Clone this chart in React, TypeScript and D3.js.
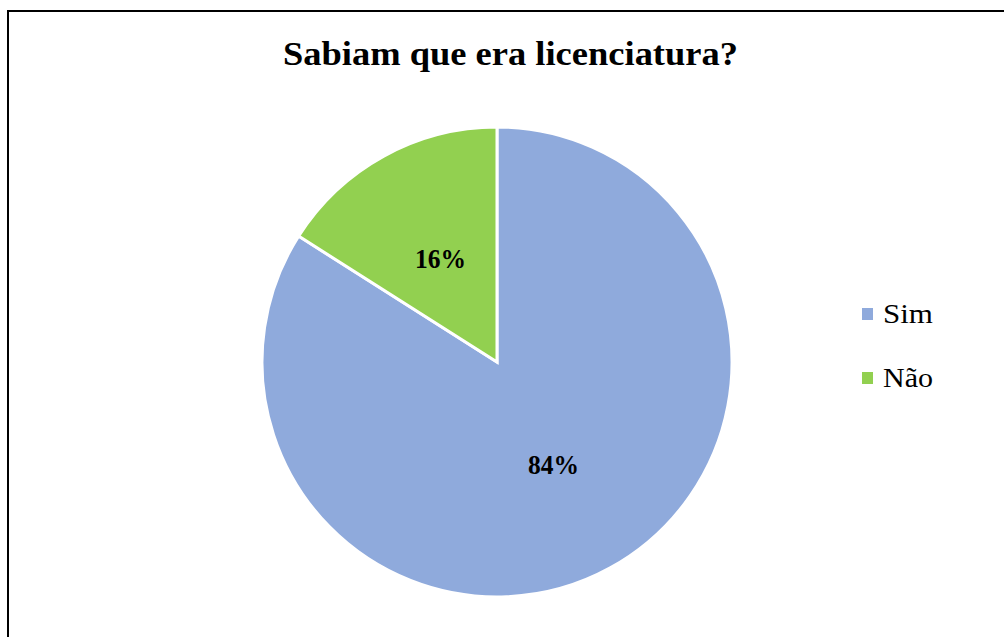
import React from "react";
import * as d3 from "d3";

const categories = ["Sim", "Não"];
const values = [84, 16];
const colors = ["#8FAADC", "#92D050"];
const title = "Sabiam que era licenciatura?";

export default function App() {
  const W = 1004, H = 637;
  const cx = 497, cy = 362, r = 235;
  const pie = d3.pie<number>().sort(null).value((d) => d);
  const arcs = pie(values);
  const arc = d3.arc<d3.PieArcDatum<number>>().innerRadius(0).outerRadius(r);
  const total = d3.sum(values);
  const labelArc = d3.arc<d3.PieArcDatum<number>>().innerRadius(r * 0.5).outerRadius(r * 0.5);
  const font = "Liberation Serif";
  return (
    <svg width={W} height={H} style={{ position: "absolute", left: 0, top: 0, background: "#fff" }}>
      <rect x={0} y={0} width={W} height={H} fill="#fff" />
      <line x1={7} y1={11} x2={W} y2={11} stroke="#000" strokeWidth={2} />
      <line x1={8} y1={10} x2={8} y2={H} stroke="#000" strokeWidth={2} />
      <text x={510.5} y={65} textAnchor="middle" fontFamily={font} fontWeight="bold" fontSize={33} fill="#000"
        textLength={455} lengthAdjust="spacingAndGlyphs">
        {title}
      </text>
      <g transform={`translate(${cx},${cy})`}>
        {arcs.map((a, i) => (
          <path key={i} d={arc(a) || ""} fill={colors[i]} stroke="#fff" strokeWidth={3} />
        ))}
        {arcs.map((a, i) => {
          const [x, y] = labelArc.centroid(a);
          return (
            <text key={i} x={x} y={y + 9} textAnchor="middle" fontFamily={font}
              fontWeight="bold" fontSize={27} fill="#000" textLength={51} lengthAdjust="spacingAndGlyphs">
              {Math.round((values[i] / total) * 100)}%
            </text>
          );
        })}
      </g>
      {categories.map((c, i) => (
        <g key={c} transform={`translate(862,${308 + i * 64})`}>
          <rect x={0} y={0} width={11} height={12} fill={colors[i]} />
          <text x={21} y={15} fontFamily={font} fontSize={27} fill="#000"
            textLength={50} lengthAdjust="spacingAndGlyphs">{c}</text>
        </g>
      ))}
    </svg>
  );
}
